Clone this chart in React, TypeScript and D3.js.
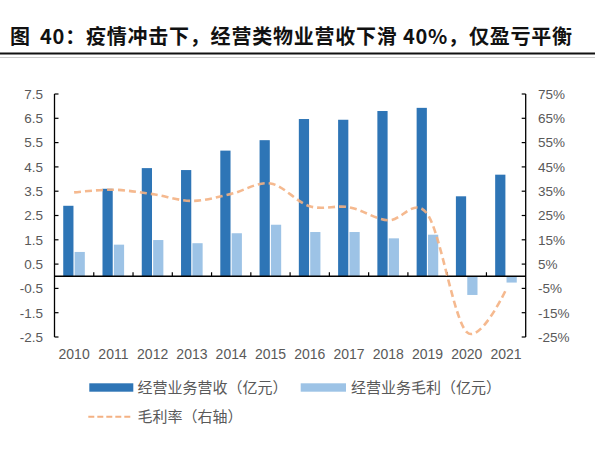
import React from "react";
import * as d3 from "d3";

const years = ["2010","2011","2012","2013","2014","2015","2016","2017","2018","2019","2020","2021"];
const revenue = [2.9, 3.6, 4.45, 4.37, 5.17, 5.6, 6.47, 6.44, 6.8, 6.93, 3.29, 4.18];
const grossProfit = [1.0, 1.3, 1.49, 1.36, 1.77, 2.12, 1.82, 1.82, 1.56, 1.71, -0.77, -0.26];
const marginRate = [34.5, 35.6, 33.8, 31.0, 33.9, 38.2, 28.8, 28.4, 23.0, 25.5, -23.0, -5.5];
const leftTicks = [-2.5, -1.5, -0.5, 0.5, 1.5, 2.5, 3.5, 4.5, 5.5, 6.5, 7.5];
const rightTicks = [-25, -15, -5, 5, 15, 25, 35, 45, 55, 65, 75];
const titleLead = "图";
const titleRest = "40：疫情冲击下，经营类物业营收下滑 40%，仅盈亏平衡";
const legendRev = "经营业务营收（亿元）";
const legendGp = "经营业务毛利（亿元）";
const legendRate = "毛利率（右轴）";

const X0 = 54.5, X1 = 525.7, YT = 94, YB = 337;
const DARK = "#2E75B6", LIGHT = "#9DC3E6", ORANGE = "#F4B183", TXT = "#595959";
const NUM_FONT = "'Liberation Sans', Arial, sans-serif";
const CJK_FONT = "'Noto Sans CJK SC', sans-serif";

export default function App() {
  const x = d3.scaleBand<string>().domain(years).range([X0, X1]).paddingInner(0).paddingOuter(0);
  const y = d3.scaleLinear().domain([-2.5, 7.5]).range([YB, YT]);
  const yr = d3.scaleLinear().domain([-25, 75]).range([YB, YT]);
  const bw = x.bandwidth();
  const center = (yv: string) => (x(yv) as number) + bw / 2;
  const inner = (c: number) => d3.scaleBand<string>().domain(["rev", "gp"]).range([c - 10.9, c + 10.7]).paddingInner(0.1);

  const line = d3.line<number>()
    .x((_, i) => center(years[i]))
    .y((d) => yr(d))
    .curve(d3.curveCardinal.tension(0));

  const y0 = y(0);

  return (
    <svg width={600} height={457} style={{ position: "absolute", left: 0, top: 0, background: "#fff" }}>
      <rect x={0} y={0} width={600} height={457} fill="#fff" />
      <text x={10} y={44} fontFamily={CJK_FONT} fontWeight={700} fontSize={20} fill="#111">{titleLead}</text>
      <text x={40} y={44} fontFamily={CJK_FONT} fontWeight={700} fontSize={20} fill="#111" textLength={532} lengthAdjust="spacing">{titleRest}</text>
      <line x1={0} x2={595} y1={53.5} y2={53.5} stroke="#111" strokeWidth={2} />
      <line x1={0} x2={595} y1={57.5} y2={57.5} stroke="#ccc" strokeWidth={1} />

      {years.map((yv, i) => {
        const ib = inner(center(yv));
        const r = revenue[i], g = grossProfit[i];
        return (
          <g key={yv}>
            <rect x={ib("rev")} width={ib.bandwidth()} y={Math.min(y(r), y0)} height={Math.abs(y(r) - y0)} fill={DARK} />
            <rect x={ib("gp")} width={ib.bandwidth()} y={Math.min(y(g), y0)} height={Math.abs(y(g) - y0)} fill={LIGHT} />
          </g>
        );
      })}

      <line x1={X0} x2={X1} y1={y0} y2={y0} stroke="#000" strokeWidth={1.5} />
      {years.slice(1).map((yv) => (
        <line key={yv} x1={x(yv)} x2={x(yv)} y1={y0} y2={y0 - 4} stroke="#000" strokeWidth={1.2} />
      ))}

      <path d={line(marginRate) || ""} fill="none" stroke={ORANGE} strokeWidth={2.6} strokeDasharray="7,4" opacity={0.9} />

      <line x1={X0} x2={X0} y1={YT} y2={YB} stroke="#000" strokeWidth={1.3} />
      {leftTicks.map((t) => (
        <g key={t}>
          <line x1={X0} x2={X0 + 4} y1={y(t)} y2={y(t)} stroke="#000" strokeWidth={1.2} />
          <text x={43} y={y(t)} dy="0.36em" textAnchor="end" fontFamily={NUM_FONT} fontSize={13.5} fill={TXT}>{t.toFixed(1)}</text>
        </g>
      ))}

      <line x1={X1} x2={X1} y1={YT} y2={YB} stroke="#000" strokeWidth={1.3} />
      {rightTicks.map((t) => (
        <g key={t}>
          <line x1={X1 - 4} x2={X1} y1={yr(t)} y2={yr(t)} stroke="#000" strokeWidth={1.2} />
          <text x={538} y={yr(t)} dy="0.36em" textAnchor="start" fontFamily={NUM_FONT} fontSize={13.5} fill={TXT}>{t + "%"}</text>
        </g>
      ))}

      {years.map((yv) => (
        <text key={yv} x={center(yv)} y={358.5} textAnchor="middle" fontFamily={NUM_FONT} fontSize={14} fill={TXT}>{yv}</text>
      ))}

      <rect x={89.3} y={383.3} width={44} height={8.4} fill={DARK} />
      <text x={137.5} y={387.5} dy="0.36em" fontFamily={CJK_FONT} fontSize={15} fill={TXT}>{legendRev}</text>
      <rect x={300.7} y={383.3} width={45.3} height={8.4} fill={LIGHT} />
      <text x={351} y={387.5} dy="0.36em" fontFamily={CJK_FONT} fontSize={15} fill={TXT}>{legendGp}</text>
      <line x1={88.3} x2={131.7} y1={416.7} y2={416.7} stroke={ORANGE} strokeWidth={2} strokeDasharray="6,3" />
      <text x={137.5} y={416.7} dy="0.36em" fontFamily={CJK_FONT} fontSize={15} fill={TXT}>{legendRate}</text>
    </svg>
  );
}
